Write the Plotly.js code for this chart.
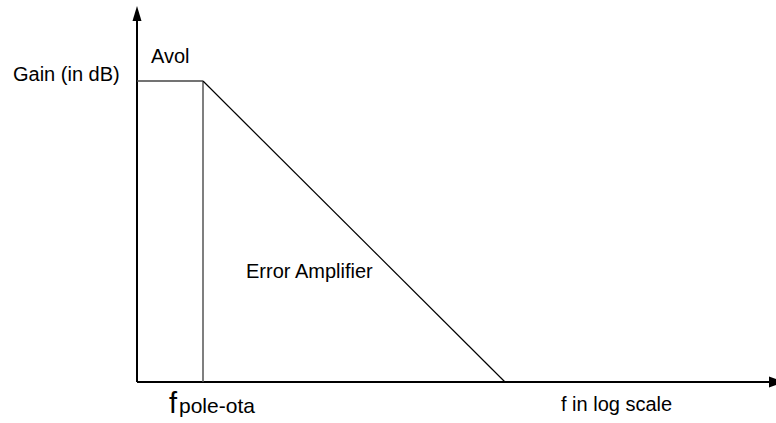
<!DOCTYPE html>
<html>
<head>
<meta charset="utf-8">
<script src="https://cdn.plot.ly/plotly-3.0.1.min.js"></script>
<style>html,body{margin:0;padding:0;background:#fff;}#chart{width:776px;height:423px;}</style>
</head>
<body>
<div id="chart"></div>
<script>
// Asymptotic Bode magnitude of the error amplifier (axis units: px-like diagram units)
const flatFreq = [0, 66];        // from origin to f_pole-ota
const flatGain = [301, 301];     // Avol level
const rollFreq = [66, 368];      // -20 dB/dec roll-off down to unity gain
const rollGain = [301, 0];
const poleFreq = [66, 66];       // marker line at f_pole-ota
const poleGain = [0, 301];
const axisXEnd = 632, axisYEnd = 361;

const labels = {
  gain: "Gain (in dB)",
  avol: "Avol",
  amp: "Error Amplifier",
  fAxis: "f in log scale",
  fBig: "f",
  fSub: "pole-ota"
};

const FONT = "Liberation Sans, Arial, sans-serif";

const traces = [
  {x: [0, axisXEnd], y: [0, 0], mode: "lines", line: {color: "#000", width: 2}, hoverinfo: "skip"},
  {x: [0, 0], y: [0, axisYEnd], mode: "lines", line: {color: "#000", width: 2}, hoverinfo: "skip"},
  {x: flatFreq, y: flatGain, mode: "lines", line: {color: "#444", width: 1.6}, hoverinfo: "skip"},
  {x: poleFreq, y: poleGain, mode: "lines", line: {color: "#555", width: 1.5}, hoverinfo: "skip"},
  {x: rollFreq, y: rollGain, mode: "lines", line: {color: "#000", width: 1.2}, hoverinfo: "skip"}
];

function ann(text, x, y, size) {
  return {text: text, x: x, y: y, xref: "x", yref: "y", xanchor: "left", yanchor: "middle",
          showarrow: false, borderpad: 0, font: {family: FONT, size: size, color: "#000"}};
}

const layout = {
  width: 776, height: 423,
  margin: {l: 0, r: 0, t: 0, b: 0},
  paper_bgcolor: "#fff", plot_bgcolor: "#fff",
  showlegend: false,
  xaxis: {range: [-137, 639], visible: false, fixedrange: true},
  yaxis: {range: [-41, 382], visible: false, fixedrange: true},
  shapes: [
    {type: "path", xref: "x", yref: "y", path: "M -4.5 361 L 0 376 L 4.5 361 Z", fillcolor: "#000", line: {width: 0}},
    {type: "path", xref: "x", yref: "y", path: "M 632 -5.5 L 648 0 L 632 5.5 Z", fillcolor: "#000", line: {width: 0}}
  ],
  annotations: [
    ann(labels.gain, -125, 308, 20),
    ann(labels.avol, 13, 326, 20),
    ann(labels.amp, 108, 111, 20),
    ann(labels.fAxis, 423, -22, 20),
    ann(labels.fBig, 31, -21, 29),
    ann(labels.fSub, 41, -23.5, 21)
  ]
};

Plotly.newPlot("chart", traces, layout, {staticPlot: true, displayModeBar: false});
</script>
</body>
</html>
